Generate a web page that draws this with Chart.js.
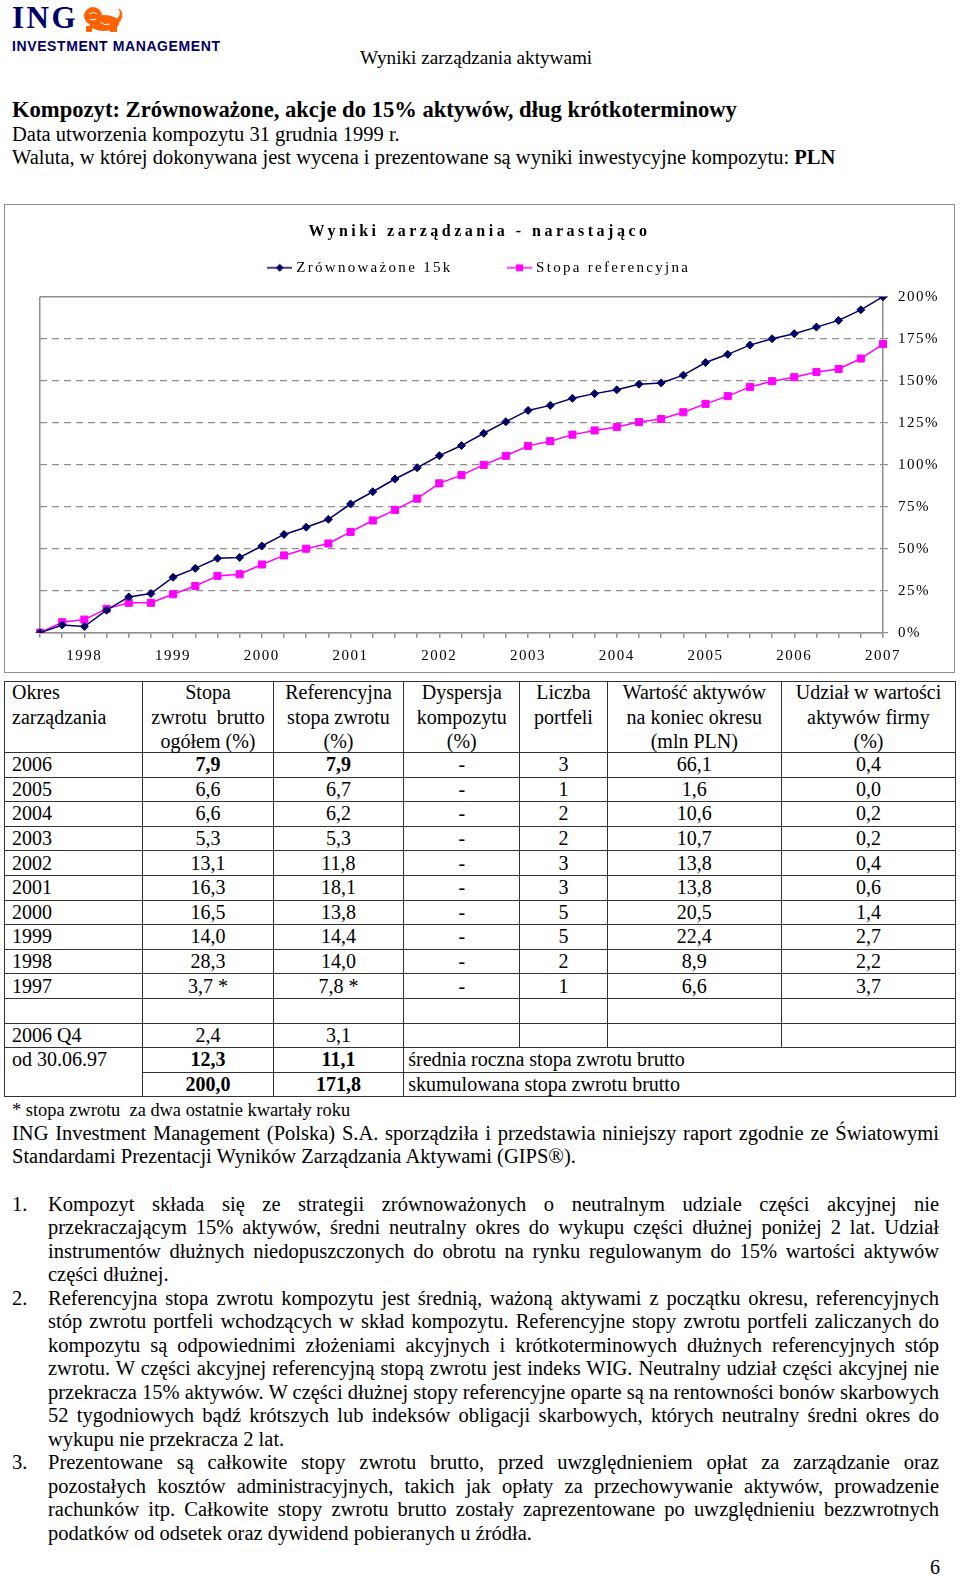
<!DOCTYPE html>
<html lang="pl">
<head>
<meta charset="utf-8">
<title>Wyniki zarządzania - narastająco</title>
<script src="https://cdn.jsdelivr.net/npm/chart.js@4.4.1/dist/chart.umd.min.js"></script>
<style>
  html, body { margin: 0; padding: 0; background: #fff; }
  body { position: relative; width: 960px; height: 1578px; overflow: hidden;
         font-family: "Liberation Serif", "Times New Roman", serif; color: #000; }
  .abs { position: absolute; white-space: nowrap; }
  .ing { left: 12px; top: 0px; font: bold 31px "Liberation Serif", serif; color: #000066; letter-spacing: 2.5px; line-height: 36px; }
  .lion { left: 80px; top: 4px; }
  .im { left: 12px; top: 38px; font: bold 14px "Liberation Sans", Arial, sans-serif; color: #000066; letter-spacing: 0.6px; line-height: 16px; }
  .head { left: 360px; top: 48px; font-size: 19.2px; line-height: 20px; }
  .title { left: 12px; top: 96.5px; font-size: 22.6px; line-height: 26px; font-weight: bold; }
  .info { left: 12px; top: 122.5px; font-size: 20.5px; line-height: 23.3px; }
  .chartbox { position: absolute; left: 4px; top: 204px; width: 951px; height: 469px; box-sizing: border-box; border: 1.5px solid #8c8c8c; }
  #chart { position: absolute; left: 5px; top: 205px; }
  table.res { position: absolute; left: 4px; top: 681px; width: 951px; border-collapse: collapse; table-layout: fixed; font-size: 20px; }
  table.res td, table.res th { border: 1.5px solid #333; padding: 0; font-weight: normal; text-align: center; height: 23.6px; line-height: 23px; vertical-align: middle; white-space: nowrap; }
  table.res th { height: 70px; vertical-align: top; }
  table.res th div { position: relative; top: -2px; height: 70px; line-height: 24.5px; }
  table.res .l { text-align: left; padding-left: 7px; }
  table.res .m { text-align: left; padding-left: 4px; }
  table.res .top { vertical-align: top; }
  b { font-weight: bold; }
  .note { left: 12px; top: 1100px; font-size: 18.4px; line-height: 20px; }
  .para { position: absolute; left: 12px; width: 927px; font-size: 20.5px; line-height: 23.2px; }
  .list { position: absolute; left: 12px; width: 927px; font-size: 20.5px; line-height: 23.5px; }
  .jl { text-align: justify; text-align-last: justify; }
  .item { position: relative; padding-left: 36px; }
  .item .num { position: absolute; left: 0; top: 0; }
  .page { left: 930px; top: 1555px; font-size: 20px; line-height: 24px; }
</style>
</head>
<body>

<div class="abs ing">ING</div>
<svg class="abs lion" width="44" height="28" viewBox="0 0 44 28">
  <g fill="#ff6200">
    <ellipse cx="24" cy="19" rx="15" ry="8"/>
    <circle cx="13" cy="12" r="9"/>
    <path d="M36 20 C44 18 44 6 38 4 C41 8 40 14 35 15 Z"/>
    <rect x="6" y="22" width="6" height="6" rx="1"/>
    <rect x="30" y="22" width="7" height="6" rx="1"/>
  </g>
  <g stroke="#fff" stroke-width="1" fill="none">
    <path d="M9 10 q4 -3 8 0"/>
    <path d="M10 15 q3 2 6 0"/>
    <path d="M20 18 q4 4 10 2"/>
  </g>
</svg>
<div class="abs im">INVESTMENT MANAGEMENT</div>
<div class="abs head">Wyniki zarządzania aktywami</div>

<div class="abs title">Kompozyt: Zrównoważone, akcje do 15% aktywów, dług krótkoterminowy</div>
<div class="abs info">Data utworzenia kompozytu 31 grudnia 1999 r.<br>Waluta, w której dokonywana jest wycena i prezentowane są wyniki inwestycyjne kompozytu: <b>PLN</b></div>

<div class="chartbox"></div>
<canvas id="chart" width="949" height="467"></canvas>

<table class="res" id="results">
  <colgroup>
    <col style="width:138.3px"><col style="width:130.4px"><col style="width:130.6px"><col style="width:116px">
    <col style="width:87.4px"><col style="width:174.3px"><col style="width:174px">
  </colgroup>
  <thead>
    <tr>
      <th class="l"><div>Okres<br>zarządzania</div></th>
      <th><div>Stopa<br>zwrotu&nbsp; brutto<br>ogółem (%)</div></th>
      <th><div>Referencyjna<br>stopa zwrotu<br>(%)</div></th>
      <th><div>Dyspersja<br>kompozytu<br>(%)</div></th>
      <th><div>Liczba<br>portfeli</div></th>
      <th><div>Wartość aktywów<br>na koniec okresu<br>(mln PLN)</div></th>
      <th><div>Udział w wartości<br>aktywów firmy<br>(%)</div></th>
    </tr>
  </thead>
  <tbody></tbody>
</table>

<div class="abs note">* stopa zwrotu&nbsp; za dwa ostatnie kwartały roku</div>

<div class="para" style="top:1122px">
  <div class="jl">ING Investment Management (Polska) S.A. sporządziła i przedstawia niniejszy raport zgodnie ze Światowymi</div>
  <div>Standardami Prezentacji Wyników Zarządzania Aktywami (GIPS®).</div>
</div>

<div class="list" style="top:1192.6px">
  <div class="item"><span class="num">1.</span>
    <div class="jl">Kompozyt składa się ze strategii zrównoważonych o neutralnym udziale części akcyjnej nie</div>
    <div class="jl">przekraczającym 15% aktywów, średni neutralny okres do wykupu części dłużnej poniżej 2 lat. Udział</div>
    <div class="jl">instrumentów dłużnych niedopuszczonych do obrotu na rynku regulowanym do 15% wartości aktywów</div>
    <div>części dłużnej.</div>
  </div>
  <div class="item"><span class="num">2.</span>
    <div class="jl">Referencyjna stopa zwrotu kompozytu jest średnią, ważoną aktywami z początku okresu, referencyjnych</div>
    <div class="jl">stóp zwrotu portfeli wchodzących w skład kompozytu. Referencyjne stopy zwrotu portfeli zaliczanych do</div>
    <div class="jl">kompozytu są odpowiednimi złożeniami akcyjnych i krótkoterminowych dłużnych referencyjnych stóp</div>
    <div class="jl">zwrotu. W części akcyjnej referencyjną stopą zwrotu jest indeks WIG. Neutralny udział części akcyjnej nie</div>
    <div class="jl">przekracza 15% aktywów. W części dłużnej stopy referencyjne oparte są na rentowności bonów skarbowych</div>
    <div class="jl">52 tygodniowych bądź krótszych lub indeksów obligacji skarbowych, których neutralny średni okres do</div>
    <div>wykupu nie przekracza 2 lat.</div>
  </div>
  <div class="item"><span class="num">3.</span>
    <div class="jl">Prezentowane są całkowite stopy zwrotu brutto, przed uwzględnieniem opłat za zarządzanie oraz</div>
    <div class="jl">pozostałych kosztów administracyjnych, takich jak opłaty za przechowywanie aktywów, prowadzenie</div>
    <div class="jl">rachunków itp. Całkowite stopy zwrotu brutto zostały zaprezentowane po uwzględnieniu bezzwrotnych</div>
    <div>podatków od odsetek oraz dywidend pobieranych u źródła.</div>
  </div>
</div>

<div class="abs page">6</div>

<script>
// chart data: cumulative return since 30.06.97, one point per quarter end (%)
const seriesNames = ["Zrównoważone 15k", "Stopa referencyjna"];
const quarterEnds = [
	"1997-06", "1997-09", "1997-12",
	"1998-03", "1998-06", "1998-09", "1998-12",
	"1999-03", "1999-06", "1999-09", "1999-12",
	"2000-03", "2000-06", "2000-09", "2000-12",
	"2001-03", "2001-06", "2001-09", "2001-12",
	"2002-03", "2002-06", "2002-09", "2002-12",
	"2003-03", "2003-06", "2003-09", "2003-12",
	"2004-03", "2004-06", "2004-09", "2004-12",
	"2005-03", "2005-06", "2005-09", "2005-12",
	"2006-03", "2006-06", "2006-09", "2006-12",
];
const xTickLabels = [
	"", "", "1998",
	"", "", "", "1999",
	"", "", "", "2000",
	"", "", "", "2001",
	"", "", "", "2002",
	"", "", "", "2003",
	"", "", "", "2004",
	"", "", "", "2005",
	"", "", "", "2006",
	"", "", "", "2007",
];
const balanced15k = [
	0, 4.6, 3.7,
	13.4, 21.3, 23.3, 33.0,
	38.3, 44.3, 44.8, 51.6,
	58.5, 62.8, 67.5, 76.6,
	83.9, 91.5, 98.2, 105.4,
	111.4, 118.7, 125.6, 132.3,
	135.3, 139.5, 142.3, 144.6,
	147.9, 148.7, 153.3, 160.8,
	165.7, 171.2, 175.0, 178.0,
	181.9, 185.9, 192.2, 200.0,
];
const benchmark = [
	0, 6.2, 7.8,
	14.2, 17.8, 17.8, 22.9,
	27.8, 33.8, 34.8, 40.6,
	46.0, 50.0, 53.1, 60.0,
	66.8, 73.1, 79.8, 88.9,
	93.8, 99.9, 105.3, 111.2,
	114.0, 117.9, 120.4, 122.4,
	125.4, 127.2, 131.2, 136.2,
	140.8, 146.3, 149.7, 152.1,
	155.2, 157.0, 163.2, 171.8,
];
const yMin = 0;
const yMax = 200;
const yStep = 25;

// table data
const periods = ["2006", "2005", "2004", "2003", "2002", "2001", "2000", "1999", "1998", "1997"];
const grossReturns = ["7,9", "6,6", "6,6", "5,3", "13,1", "16,3", "16,5", "14,0", "28,3", "3,7 *"];
const benchReturns = ["7,9", "6,7", "6,2", "5,3", "11,8", "18,1", "13,8", "14,4", "14,0", "7,8 *"];
const dispersion = ["-", "-", "-", "-", "-", "-", "-", "-", "-", "-"];
const portfolios = ["3", "1", "2", "2", "3", "3", "5", "5", "2", "1"];
const assetsMln = ["66,1", "1,6", "10,6", "10,7", "13,8", "13,8", "20,5", "22,4", "8,9", "6,6"];
const firmShare = ["0,4", "0,0", "0,2", "0,2", "0,4", "0,6", "1,4", "2,7", "2,2", "3,7"];
const lastQuarter = ["2006 Q4", "2,4", "3,1"];
const sinceStart = ["od 30.06.97", "12,3", "11,1", "średnia roczna stopa zwrotu brutto"];
const cumulative = ["200,0", "171,8", "skumulowana stopa zwrotu brutto"];

const NAVY = "#000066";
const PINK = "#ff00ff";
const GRID = "#8e8e8e";
const FONT = "'Liberation Serif', 'Times New Roman', serif";

// legend placement (the original has a wide gap between the two entries)
const LEGEND_PADDING = 58;
const LEGEND_HEIGHT = 54.9;
const LEGEND_DX = 1;
const LEGEND_DY = -39.6;

const buildTable = () => {
	const body = document.querySelector("#results tbody");
	const cell = (text, cls, bold) => `<td${cls ? ` class="${cls}"` : ""}>${bold ? `<b>${text}</b>` : text}</td>`;
	let html = "";
	periods.forEach((p, i) => {
		const bold = i === 0;
		html += "<tr>" + cell(p, "l") + cell(grossReturns[i], "", bold) + cell(benchReturns[i], "", bold) +
			cell(dispersion[i]) + cell(portfolios[i]) + cell(assetsMln[i]) + cell(firmShare[i]) + "</tr>";
	});
	html += "<tr>" + "<td></td>".repeat(7) + "</tr>";
	html += "<tr>" + cell(lastQuarter[0], "l") + cell(lastQuarter[1]) + cell(lastQuarter[2]) + "<td></td>".repeat(4) + "</tr>";
	html += `<tr><td class="l top" rowspan="2">${sinceStart[0]}</td>` + cell(sinceStart[1], "", true) + cell(sinceStart[2], "", true) +
		`<td class="m" colspan="4">${sinceStart[3]}</td></tr>`;
	html += "<tr>" + cell(cumulative[0], "", true) + cell(cumulative[1], "", true) +
		`<td class="m" colspan="4">${cumulative[2]}</td></tr>`;
	body.innerHTML = html;
};

// keep every justified line on one line, tightening word gaps if needed
const fitLines = () => {
	document.querySelectorAll(".jl").forEach((el) => {
		let ws = 0;
		while (el.getBoundingClientRect().height > 30 && ws > -5) {
			ws -= 0.25;
			el.style.wordSpacing = `${ws}px`;
		}
	});
};

// small line-with-marker picture, like the legend of the original
const legendIcon = (color, style) => {
	const c = document.createElement("canvas");
	c.width = 25;
	c.height = 10;
	const g = c.getContext("2d");
	g.strokeStyle = color;
	g.fillStyle = color;
	g.lineWidth = 1.5;
	g.beginPath();
	g.moveTo(0, 5);
	g.lineTo(25, 5);
	g.stroke();
	g.beginPath();
	if (style === "rectRot") {
		g.moveTo(12.5, 1);
		g.lineTo(16.5, 5);
		g.lineTo(12.5, 9);
		g.lineTo(8.5, 5);
		g.closePath();
	} else {
		g.rect(9, 1.5, 7, 7);
	}
	g.fill();
	return c;
};

// letter spacing of the chart texts (the original uses spaced-out type)
const spacingPlugin = {
	id: "spacing",
	afterInit(chart) {
		const ctx = chart.ctx;
		const title = chart.titleBlock;
		const titleDraw = title.draw;
		title.draw = function (...args) {
			ctx.save();
			ctx.letterSpacing = "3.5px";
			titleDraw.apply(this, args);
			ctx.restore();
		};
		const legend = chart.legend;
		const legendFit = legend.fit;
		const legendDraw = legend.draw;
		legend.fit = function () {
			ctx.save();
			ctx.letterSpacing = "2.3px";
			legendFit.call(this);
			ctx.restore();
			this.height = LEGEND_HEIGHT;
		};
		legend.draw = function () {
			const { top, left, right } = this;
			this.top += LEGEND_DY;
			this.left += LEGEND_DX;
			this.right += LEGEND_DX;
			ctx.save();
			ctx.letterSpacing = "2.3px";
			legendDraw.call(this);
			ctx.restore();
			this.top = top;
			this.left = left;
			this.right = right;
		};
	},
	beforeDraw(chart) {
		chart.ctx.letterSpacing = "1.5px";
	},
};

window.onload = () => {
	buildTable();
	fitLines();
	Chart.defaults.font.family = FONT;
	Chart.defaults.color = "#000";

	const canvas = document.getElementById("chart");
	new Chart(canvas, {
		type: "line",
		data: {
			labels: quarterEnds,
			datasets: [
				{
					label: seriesNames[0],
					data: balanced15k,
					borderColor: NAVY,
					backgroundColor: NAVY,
					borderWidth: 1.5,
					pointStyle: "rectRot",
					pointRadius: 4,
					pointBorderWidth: 1,
					tension: 0,
				},
				{
					label: seriesNames[1],
					data: benchmark,
					borderColor: PINK,
					backgroundColor: PINK,
					borderWidth: 1.5,
					pointStyle: "rect",
					pointRadius: 5,
					pointBorderWidth: 1,
					tension: 0,
				},
			],
		},
		options: {
			responsive: false,
			animation: false,
			devicePixelRatio: 1,
			layout: { padding: 0 },
			plugins: {
				tooltip: { enabled: false },
				title: {
					display: true,
					text: "Wyniki zarządzania - narastająco",
					color: "#000",
					font: { family: FONT, size: 16, weight: "bold" },
					padding: { top: 17.6, bottom: 0 },
				},
				legend: {
					display: true,
					position: "top",
					labels: {
						font: { family: FONT, size: 15 },
						color: "#000",
						usePointStyle: true,
						pointStyleWidth: 18,
						padding: LEGEND_PADDING,
						generateLabels: (chart) =>
							chart.data.datasets.map((ds, i) => ({
								text: ds.label,
								pointStyle: legendIcon(ds.borderColor, ds.pointStyle),
								fillStyle: ds.backgroundColor,
								strokeStyle: ds.borderColor,
								lineWidth: 0,
								hidden: false,
								datasetIndex: i,
							})),
					},
				},
			},
			scales: {
				x: {
					grid: {
						color: (c) => (c.index === 0 ? GRID : "rgba(0,0,0,0)"),
						tickColor: GRID,
						tickLength: 5,
						lineWidth: 1.5,
					},
					border: { color: GRID, width: 1.5 },
					ticks: {
						autoSkip: false,
						maxRotation: 0,
						padding: 9,
						font: { family: FONT, size: 15 },
						color: "#000",
						callback: (v, i) => xTickLabels[i],
					},
					afterFit: (s) => {
						s.height = 39.3;
					},
				},
				y: {
					position: "right",
					min: yMin,
					max: yMax,
					grid: {
						color: GRID,
						tickLength: 5,
						lineWidth: (c) => (c.tick && c.tick.value === yMax ? 1.5 : 1.2),
					},
					border: {
						color: GRID,
						width: 1.5,
						dash: (c) => (c.tick && c.tick.value > yMin && c.tick.value < yMax ? [7, 5] : []),
					},
					ticks: {
						stepSize: yStep,
						padding: 10,
						font: { family: FONT, size: 15 },
						color: "#000",
						callback: (v) => `${v}%`,
					},
					afterFit: (s) => {
						s.width = 71;
					},
				},
				// empty margin left of the plot (no marks), as in the original
				margin: {
					position: "left",
					grid: { display: false },
					border: { display: false },
					ticks: { display: false },
					afterFit: (s) => {
						s.width = 35;
					},
				},
			},
		},
		plugins: [spacingPlugin],
	});
};
</script>
</body>
</html>
